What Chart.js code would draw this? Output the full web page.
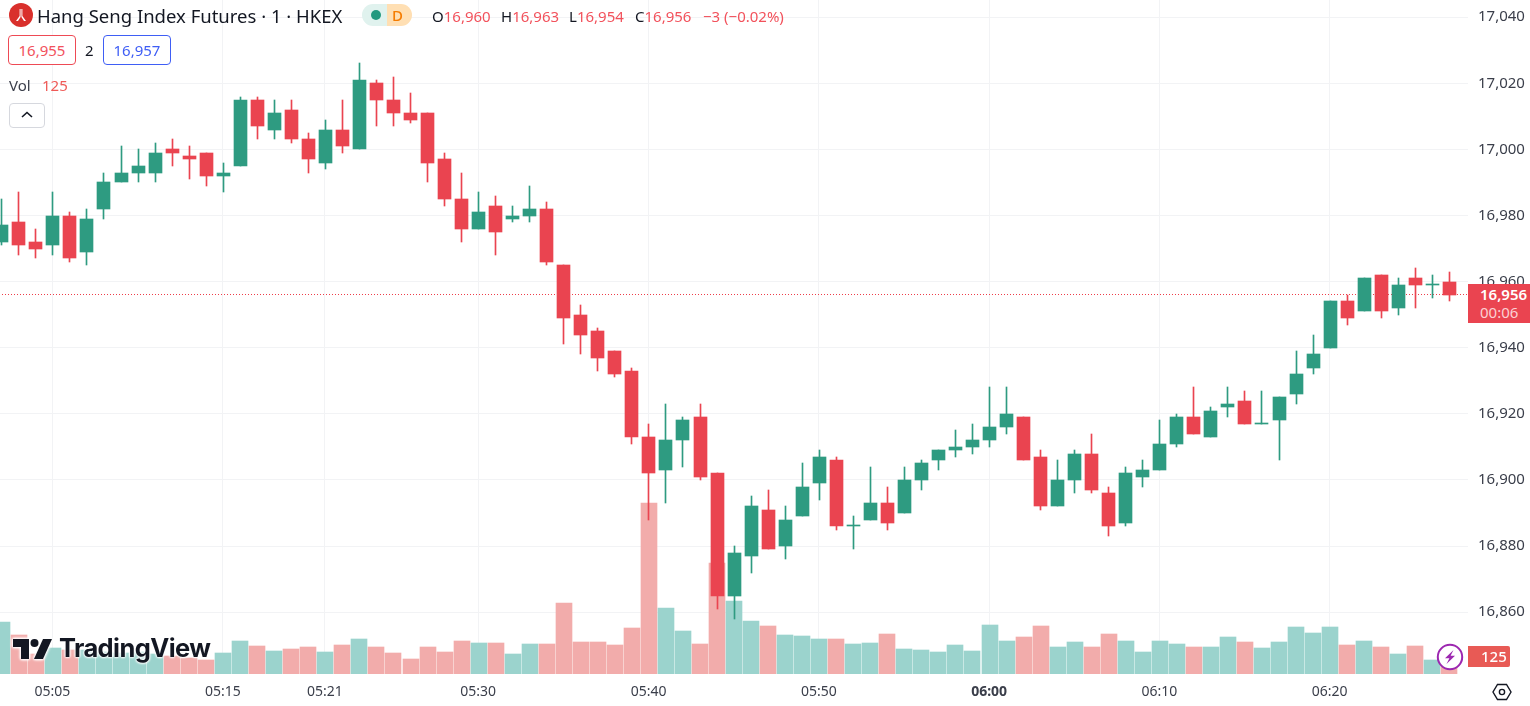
<!DOCTYPE html>
<html>
<head>
<meta charset="utf-8">
<title>Hang Seng Index Futures</title>
<script src="https://cdn.jsdelivr.net/npm/chart.js@4/dist/chart.umd.min.js"></script>
<style>
  html, body { margin: 0; padding: 0; background: #fff; overflow: hidden; }
  body { font-family: "Noto Sans", sans-serif; color: #131722; }
  #wrap { position: relative; width: 1530px; height: 706px; }
  canvas { position: absolute; left: 0; top: 0; }
  .t { position: absolute; white-space: nowrap; }
  .red { color: #f2525c; }
  .box { position: absolute; top: 35px; width: 66px; height: 28px; line-height: 28px; text-align: center; font-size: 15px; border: 1px solid; border-radius: 4px; background: #fff; }
</style>
</head>
<body>
<div id="wrap">
  <canvas id="chart" width="1530" height="706"></canvas>

  <svg class="t" style="left:9px;top:3px" width="24" height="24" viewBox="0 0 24 24">
    <circle cx="12" cy="12" r="12" fill="#d9302c"/>
    <path d="M10.6 6 L10.6 13 L7 18 L9 18 L11.6 14 L11.6 6 Z M13.4 6 L12.4 6 L12.4 14 L15 18 L17 18 L13.4 13 Z" fill="#fff"/>
  </svg>
  <div class="t" style="left:37px;top:3px;font-size:18.5px;line-height:25px">Hang Seng Index Futures · 1 · HKEX</div>

  <div class="t" style="left:362px;top:4px;width:25px;height:22px;background:#e0f2ee;border-radius:11px 0 0 11px"></div>
  <div class="t" style="left:387px;top:4px;width:25px;height:22px;background:#ffdfb3;border-radius:0 11px 11px 0"></div>
  <div class="t" style="left:371px;top:10px;width:10px;height:10px;background:#24997f;border-radius:50%"></div>
  <div class="t" style="left:392px;top:4px;font-size:15px;line-height:22px;color:#f57c00;font-weight:500">D</div>

  <div class="t" style="left:432px;top:6px;font-size:15px;line-height:20px">O<span class="red">16,960</span></div>
  <div class="t" style="left:501px;top:6px;font-size:15px;line-height:20px">H<span class="red">16,963</span></div>
  <div class="t" style="left:569px;top:6px;font-size:15px;line-height:20px">L<span class="red">16,954</span></div>
  <div class="t" style="left:635px;top:6px;font-size:15px;line-height:20px">C<span class="red">16,956</span></div>
  <div class="t red" style="left:703px;top:6px;font-size:15px;line-height:20px">−3 (−0.02%)</div>

  <div class="box red" style="left:8px;border-color:#ee4a55">16,955</div>
  <div class="t" style="left:85px;top:35px;font-size:15px;line-height:30px">2</div>
  <div class="box" style="left:103px;border-color:#3f5ef5;color:#3f5ef5">16,957</div>

  <div class="t" style="left:9px;top:75px;font-size:15px;line-height:20px;color:#3a3e4a">Vol</div>
  <div class="t" style="left:42px;top:75px;font-size:15px;line-height:20px;color:#ef5a57">125</div>
  <div class="t" style="left:9px;top:103px;width:34px;height:23px;border:1px solid #d6d8de;border-radius:4px;background:#fff"></div>
  <svg class="t" style="left:20px;top:110px" width="14" height="10" viewBox="0 0 14 10"><path d="M2 7 L7 2.5 L12 7" fill="none" stroke="#131722" stroke-width="1.6"/></svg>

  <svg class="t" style="left:13px;top:637px;filter:drop-shadow(0 0 1px #fff) drop-shadow(0 0 1px #fff) drop-shadow(0 0 1px #fff)" width="40" height="24" viewBox="0 0 40 24">
    <path d="M0 2 H16 V22 H8 V10 H0 Z" fill="#131722"/>
    <circle cx="21.5" cy="6" r="4" fill="#131722"/>
    <path d="M30 2 H39 L30 22 H21 Z" fill="#131722"/>
  </svg>
  <div class="t" style="left:59px;top:630px;font-family:Inter,sans-serif;font-size:25.5px;font-weight:700;line-height:36px;letter-spacing:-0.6px;color:#131722;text-shadow:0 0 2px #fff,0 0 2px #fff,0 0 3px #fff,0 0 3px #fff">TradingView</div>

  <div class="t" style="left:1468px;top:284px;width:62px;height:39px;background:#ea4450"></div>
  <div class="t" style="left:1480px;top:284px;font-size:15px;line-height:20px;font-weight:600;color:#fff">16,956</div>
  <div class="t" style="left:1480px;top:302px;font-size:15px;line-height:20px;color:#fbd0d3">00:06</div>

  <div class="t" style="left:1468px;top:646px;width:42px;height:21px;background:#e85a55;border-radius:0 2px 2px 0"></div>
  <div class="t" style="left:1481px;top:646px;font-size:15px;line-height:21px;font-weight:500;color:#fff">125</div>

  <svg class="t" style="left:1436px;top:643px" width="28" height="28" viewBox="0 0 28 28">
    <circle cx="14" cy="14" r="12.2" fill="#fff" stroke="#9c27b0" stroke-width="2"/>
    <path d="M17.5 7 L9 15.2 H13.4 L10.5 21 L19 12.8 H14.6 Z" fill="#9c27b0"/>
  </svg>

  <svg class="t" style="left:1492px;top:682px" width="20" height="20" viewBox="0 0 20 20">
    <path d="M5.5 2.5 H14.5 L19 10 L14.5 17.5 H5.5 L1 10 Z" fill="none" stroke="#131722" stroke-width="1.4"/>
    <circle cx="10" cy="10" r="2.6" fill="none" stroke="#131722" stroke-width="1.4"/>
  </svg>
</div>

<script>
const times = [
  '05:02','05:03','05:04','05:05','05:06','05:07','05:08','05:09','05:10','05:11',
  '05:12','05:13','05:14','05:15','05:16','05:17','05:18','05:19','05:20','05:21',
  '05:22','05:23','05:24','05:25','05:26','05:27','05:28','05:29','05:30','05:31',
  '05:32','05:33','05:34','05:35','05:36','05:37','05:38','05:39','05:40','05:41',
  '05:42','05:43','05:44','05:45','05:46','05:47','05:48','05:49','05:50','05:51',
  '05:52','05:53','05:54','05:55','05:56','05:57','05:58','05:59','06:00','06:01',
  '06:02','06:03','06:04','06:05','06:06','06:07','06:08','06:09','06:10','06:11',
  '06:12','06:13','06:14','06:15','06:16','06:17','06:18','06:19','06:20','06:21',
  '06:22','06:23','06:24','06:25','06:26','06:27'
];
const open = [
  16972,16978,16972,16971,16980,16969,16982,16990,16993,16993,
  17000,16998,16999,16992,16995,17015,17006,17012,17003,16996,
  17006,17000,17020,17015,17011,17011,16997,16985,16976,16983,
  16979,16980,16982,16965,16950,16945,16939,16933,16913,16903,
  16912,16919,16902,16865,16877,16891,16880,16889,16899,16906,
  16886,16888,16893,16890,16900,16906,16909,16910,16912,16916,
  16919,16907,16892,16900,16908,16896,16887,16901,16903,16911,
  16919,16913,16922,16924,16917,16918,16926,16934,16940,16954,
  16951,16962,16952,16961,16959,16960
];
const high = [
  16985,16987,16976,16987,16981,16982,16993,17001,17000,17002,
  17003,17001,16999,16996,17016,17016,17015,17015,17005,17009,
  17015,17026,17021,17022,17017,17011,16999,16993,16987,16986,
  16983,16989,16984,16965,16953,16946,16939,16934,16917,16923,
  16919,16923,16902,16880,16895,16897,16892,16905,16909,16907,
  16889,16904,16898,16904,16906,16909,16915,16917,16928,16928,
  16919,16909,16906,16909,16914,16898,16904,16906,16918,16920,
  16928,16922,16928,16927,16927,16925,16939,16944,16954,16956,
  16961,16962,16961,16964,16962,16963
];
const low = [
  16971,16968,16967,16968,16966,16965,16979,16990,16990,16990,
  16995,16991,16989,16987,16995,17003,17003,17002,16993,16994,
  16999,17000,17007,17007,17008,16990,16983,16972,16976,16968,
  16978,16978,16965,16941,16938,16933,16931,16911,16888,16893,
  16904,16900,16861,16858,16872,16879,16876,16889,16894,16885,
  16879,16888,16885,16890,16897,16903,16907,16908,16910,16914,
  16906,16891,16892,16896,16896,16883,16886,16898,16903,16910,
  16914,16913,16919,16917,16917,16906,16923,16932,16940,16947,
  16951,16949,16950,16952,16955,16954
];
const close = [
  16977,16971,16970,16980,16967,16979,16990,16993,16995,16999,
  16999,16997,16992,16993,17015,17007,17011,17003,16997,17006,
  17001,17021,17015,17011,17009,16996,16985,16976,16981,16975,
  16980,16982,16966,16949,16944,16937,16932,16913,16902,16912,
  16918,16901,16865,16878,16892,16879,16888,16898,16907,16886,
  16886,16893,16887,16900,16905,16909,16910,16912,16916,16920,
  16906,16892,16900,16908,16897,16886,16902,16903,16911,16919,
  16914,16921,16923,16917,16917,16925,16932,16938,16954,16949,
  16961,16951,16959,16959,16959,16956
];
const volume = [
  382,287,147,191,176,176,162,154,162,147,
  132,118,103,154,243,206,169,184,198,162,
  213,257,198,154,110,198,162,243,228,228,
  147,220,220,522,235,235,213,338,1257,485,
  316,220,816,537,390,353,287,279,257,257,
  220,228,294,184,176,162,213,169,360,243,
  272,353,198,235,198,294,243,162,243,220,
  198,198,272,235,191,235,345,301,345,213,
  243,198,147,206,103,125
];
const timeTicks = ['05:05','05:15','05:21','05:30','05:40','05:50','06:00','06:10','06:20'];
const priceTicks = [16860,16880,16900,16920,16940,16960,16980,17000,17020,17040];
const lastPrice = 16956;

const UP = '#2e9b81', DOWN = '#ea4450';
const UP_VOL = '#9bd3cd', DOWN_VOL = '#f2acab';
const GRID = '#f2f3f5', TICK = '#3a3e4a';
const FONT = '"Noto Sans", sans-serif';
const isUp = times.map((_, i) => close[i] >= open[i]);

const idx = t => times.indexOf(t);

// no half-label padding around the plot, it fills the canvas edge to edge
const noPadding = s => { s.paddingTop = s.paddingBottom = s.paddingLeft = s.paddingRight = 0; };

// rounds marks to whole pixels, like the original chart does
const snapMarks = {
  id: 'snapMarks',
  afterDatasetsUpdate(chart) {
    chart.getSortedVisibleDatasetMetas().forEach(meta => {
      meta.data.forEach(el => {
        if (meta.type === 'line') {
          el.x = Math.round(el.x);
          el.y = Math.floor(el.y) + 0.5;
          return;
        }
        el.x = Math.round(el.x - el.width / 2 + 0.4) + el.width / 2;
        el.y = Math.round(el.y);
        el.base = Math.round(el.base);
        if (el.y === el.base) el.base = el.y + 1;
      });
    });
  }
};

new Chart(document.getElementById('chart'), {
  type: 'bar',
  data: {
    datasets: [
      {
        label: 'Bodies', order: 0, yAxisID: 'y', barThickness: 13, minBarLength: 1, grouped: false,
        data: times.map((_, i) => ({ x: i, y: [open[i], close[i]] })),
        backgroundColor: isUp.map(u => u ? UP : DOWN)
      },
      {
        label: 'Wicks', order: 1, yAxisID: 'y', barThickness: 1, grouped: false,
        data: times.map((_, i) => ({ x: i, y: [low[i], high[i]] })),
        backgroundColor: isUp.map(u => u ? UP : DOWN)
      },
      {
        label: 'Last', type: 'line', order: 2, yAxisID: 'y', pointRadius: 0, borderWidth: 1,
        borderColor: '#ee3d4a', borderDash: [1, 2],
        data: [{ x: -1, y: lastPrice }, { x: 87, y: lastPrice }]
      },
      {
        label: 'Vol', order: 3, yAxisID: 'yVol', barThickness: 16, grouped: false,
        data: times.map((_, i) => ({ x: i, y: volume[i] })),
        backgroundColor: isUp.map(u => u ? UP_VOL : DOWN_VOL)
      }
    ]
  },
  options: {
    responsive: false,
    animation: false,
    devicePixelRatio: 1,
    events: [],
    layout: { padding: 0 },
    plugins: { legend: { display: false }, tooltip: { enabled: false } },
    scales: {
      x: {
        type: 'linear',
        min: -0.082,
        max: 86.12,
        offset: false,
        afterBuildTicks: s => { s.ticks = timeTicks.map(t => ({ value: idx(t) })); },
        afterFit: s => { s.height = 32; noPadding(s); },
        grid: { color: GRID, drawTicks: false, offset: false },
        border: { display: false },
        ticks: {
          autoSkip: false, maxRotation: 0, padding: 10, color: TICK,
          font: c => ({ family: FONT, size: 14, weight: c.tick && times[c.tick.value] === '06:00' ? 'bold' : 'normal' }),
          callback: v => times[v]
        }
      },
      y: {
        position: 'right',
        min: 16841.3,
        max: 17045.2,
        afterBuildTicks: s => { s.ticks = priceTicks.map(v => ({ value: v })); },
        afterFit: s => { s.width = 62; noPadding(s); },
        grid: { color: GRID, drawTicks: false },
        border: { display: false },
        ticks: {
          padding: 10, color: TICK, font: { family: FONT, size: 15 },
          callback: v => v.toLocaleString('en-US')
        }
      },
      yVol: { display: false, min: 0, max: 4954 }
    }
  },
  plugins: [snapMarks]
});
</script>
</body>
</html>
